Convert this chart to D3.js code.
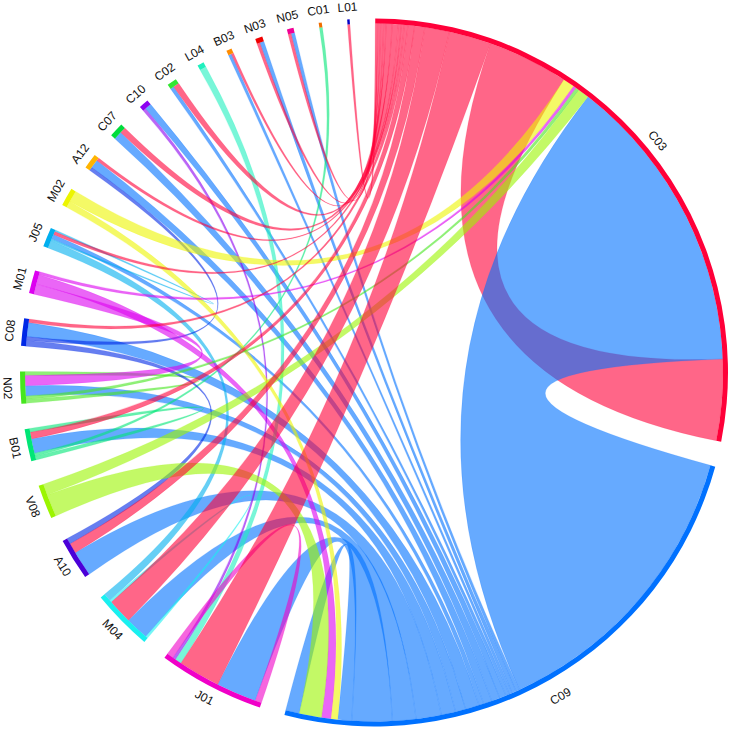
<!DOCTYPE html>
<html>
<head>
<meta charset="utf-8">
<script src="https://cdn.jsdelivr.net/npm/d3@7"></script>
<style>
  html, body { margin: 0; padding: 0; background: #fff; }
  svg { display: block; }
  text { font-family: "Liberation Sans", Arial, sans-serif; font-size: 12px; fill: #111; }
</style>
</head>
<body>
<div id="chart"></div>
<script>
const sectors = ["C03","C09","J01","M04","A10","V08","B01","N02","C08","M01","J05","M02","A12","C07","C10","C02","L04","B03","N03","N05","C01","L01"];
const sectorColors = ["#ff0039","#0071ff","#f000c8","#19f0f0","#4b00d8","#9bf500","#00e676","#46e61e","#0028e6","#dc00f0","#00afef","#ecf500","#ffb400","#00dc3c","#8c00f0","#32e632","#1ef0be","#ff8c00","#f00000","#f00096","#f06e00","#0000c8"];

// links, listed in drawing order. the first name of each pair gives the colour
const linkFrom  = ["C03","C09","C09","C09","C09","C09","C09","C09","C09","C09","C09","C09","C09","C09","C09","C09","C09","N02","B01","B01","M04","J05","J05","C08","C08","M01","M01","L04","C10","J01","V08","V08","M02","M02","M01","N02","C03","C03","C03","C03","C03","C03","C03","C03","C03","C03","C03","C03","C03"];
const linkTo    = ["C03","C03","C09","N05","N03","B03","C02","C10","C07","A12","J05","C08","N02","B01","A10","M04","J01","N02","B01","C01","M04","J05","M04","A12","A10","N02","C09","J01","J01","J01","C09","C03","C09","C03","C03","C03","L01","N05","N03","B03","C02","C07","A12","J05","C08","B01","A10","M04","J01"];
const linkValue = [13.5,50,2.3,.6,.7,.5,.6,1.1,1.4,1.4,.8,2.3,1.7,2.4,4.2,3.9,6.7,.65,.65,.5,.4,.3,1.3,.6,1,1.7,1.6,1.1,.5,1.1,3.7,1.9,1.1,1.9,.5,.55,.4,.5,.5,.4,1,1,.5,.5,.6,1.1,1.7,4.1,7];

// partners of every sector, clockwise
const sectorOrder = [
  ["L01","N05","N03","B03","C02","C07","A12","J05","C08","B01","A10","M04","J01","C03","M02","M01","N02","V08","C09","C03"],
  ["C03","N05","N03","B03","C02","C10","C07","A12","J05","C08","N02","B01","A10","M04","J01","C09","M02","M01","V08","C09"],
  ["J01","C09","C03","L04","C10","J01"],
  ["M04","C09","C03","M04","J05"],
  ["C09","C03","C08"],
  ["C09","C03"],
  ["B01","C01","C09","C03","B01"],
  ["N02","C03","C09","M01","N02"],
  ["A10","A12","C09","C03"],
  ["N02","C09","C03"],
  ["M04","J05","C09","C03","J05"],
  ["C09","C03"],
  ["C08","C09","C03"],
  ["C09","C03"],
  ["J01","C09"],
  ["C09","C03"],
  ["J01"],
  ["C09","C03"],
  ["C03","C09"],
  ["C03","C09"],
  ["B01"],
  ["C03"]
];

const width = 732;
const height = 730;
const cx = 374;
const cy = 372.5;
const outerRadius = 354;
const innerRadius = 349;
const labelRadius = 366.5;
const padAngle = 4.15;
const startOffset = 0.2;
const rad = Math.PI / 180;

const svg = d3.select("#chart").append("svg")
  .attr("width", width)
  .attr("height", height)
  .attr("viewBox", [0, 0, width, height]);

const g = svg.append("g").attr("transform", `translate(${cx},${cy})`);

function findLink(a, b) {
  for (let i = 0; i < linkFrom.length; i++) {
    if ((linkFrom[i] === a && linkTo[i] === b) || (linkFrom[i] === b && linkTo[i] === a)) return i;
  }
  return -1;
}

const total = d3.sum(linkValue) * 2;
const angle = d3.scaleLinear()
  .domain([0, total])
  .range([0, 360 - sectors.length * padAngle]);

// walk round the circle and hand out an angle span to each link end
const ends = linkValue.map(() => []);
const arcs = [];
let pos = startOffset;
sectors.forEach((name, i) => {
  const start = pos;
  sectorOrder[i].forEach((partner) => {
    const k = findLink(name, partner);
    const w = angle(linkValue[k]);
    ends[k].push({ startAngle: pos * rad, endAngle: (pos + w) * rad, radius: innerRadius });
    pos += w;
  });
  arcs.push({ name: name, color: sectorColors[i], startAngle: start * rad, endAngle: pos * rad });
  pos += padAngle;
});

const ribbon = d3.ribbon();
const arc = d3.arc().innerRadius(innerRadius).outerRadius(outerRadius);

// ribbons
g.append("g")
  .selectAll("path")
  .data(linkValue.map((d, i) => i))
  .enter()
  .append("path")
  .attr("d", (k) => ribbon({ source: ends[k][0], target: ends[k][1] }))
  .attr("fill", (k) => sectorColors[sectors.indexOf(linkFrom[k])])
  .attr("fill-opacity", 0.6)
  .attr("stroke", (k) => sectorColors[sectors.indexOf(linkFrom[k])])
  .attr("stroke-opacity", 0.25)
  .attr("stroke-width", 0.5);

// sector arcs
g.append("g")
  .selectAll("path")
  .data(arcs)
  .enter()
  .append("path")
  .attr("d", arc)
  .attr("fill", (d) => d.color);

// labels
g.append("g")
  .selectAll("text")
  .data(arcs)
  .enter()
  .append("text")
  .attr("text-anchor", "middle")
  .attr("dy", "0.35em")
  .attr("transform", (d) => {
    const mid = (d.startAngle + d.endAngle) / 2 / rad;
    const rot = mid > 90 && mid < 270 ? mid - 180 : mid;
    const r = d.name === "C09" ? labelRadius + 7 : labelRadius;
    const x = r * Math.sin(mid * rad);
    const y = -r * Math.cos(mid * rad);
    return `translate(${x},${y}) rotate(${rot})`;
  })
  .text((d) => d.name);
</script>
</body>
</html>
